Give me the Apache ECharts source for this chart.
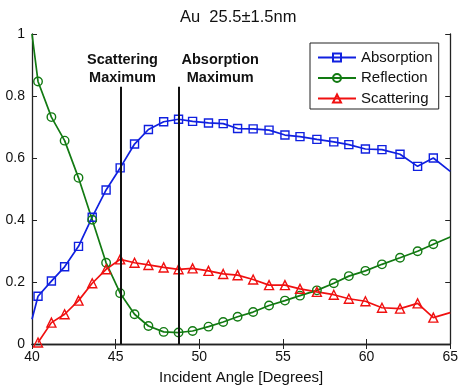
<!DOCTYPE html>
<html>
<head>
<meta charset="utf-8">
<script src="https://cdn.jsdelivr.net/npm/echarts@6/dist/echarts.min.js"></script>
<style>
html,body{margin:0;padding:0;background:#fff;}
#chart{width:461px;height:390px;}
</style>
</head>
<body>
<div id="chart"></div>
<script>
// Incident angles (degrees) of the measured points
const angles = [40.36, 41.16, 41.95, 42.78, 43.60, 44.43, 45.27, 46.13, 46.96, 47.87, 48.76, 49.60, 50.55, 51.43, 52.29, 53.22, 54.17, 55.12, 56.02, 57.03, 58.04, 58.94, 59.93, 60.92, 62.00, 63.05, 63.99];
const absorption = [0.154, 0.203, 0.249, 0.315, 0.409, 0.497, 0.568, 0.645, 0.692, 0.717, 0.725, 0.718, 0.713, 0.711, 0.695, 0.694, 0.690, 0.674, 0.669, 0.660, 0.652, 0.643, 0.629, 0.627, 0.612, 0.573, 0.600];
const reflection = [0.847, 0.732, 0.656, 0.536, 0.401, 0.262, 0.164, 0.096, 0.058, 0.039, 0.037, 0.042, 0.056, 0.071, 0.088, 0.103, 0.124, 0.140, 0.156, 0.173, 0.196, 0.219, 0.236, 0.257, 0.278, 0.299, 0.322];
const scattering = [0.005, 0.069, 0.096, 0.140, 0.196, 0.241, 0.273, 0.262, 0.255, 0.247, 0.241, 0.244, 0.236, 0.226, 0.222, 0.208, 0.190, 0.190, 0.178, 0.168, 0.159, 0.146, 0.138, 0.117, 0.114, 0.131, 0.085];
// values where the curves meet the plot edges (x = 40 and x = 65)
const edgeAngles = [40, 65];
const absorptionEdge = [0.080, 0.557];
const reflectionEdge = [1.000, 0.345];
const scatteringEdge = [null, 0.101];
// annotations
const maxLineAngles = [45.33, 48.76];
const maxLineTop = 0.83;
const annotations = [
  {name: 'Scattering\nMaximum', x: 45.41, y: 0.886},
  {name: 'Absorption\nMaximum', x: 51.25, y: 0.886}
];
const xTicks = {min: 40, max: 65, step: 5};
const yTicks = {min: 0, max: 1, step: 0.2};
const titleText = 'Au  25.5\u00b11.5nm';
const xName = 'Incident Angle [Degrees]';

function buildData(vals, edge) {
  const d = [];
  if (edge[0] !== null) d.push({value: [edgeAngles[0], edge[0]], symbol: 'none'});
  angles.forEach((a, i) => d.push([a, vals[i]]));
  if (edge[1] !== null) d.push({value: [edgeAngles[1], edge[1]], symbol: 'none'});
  return d;
}

const axisColor = '#222';
const font = '"Liberation Sans", Arial, Helvetica, sans-serif';

const chart = echarts.init(document.getElementById('chart'), null, {renderer: 'canvas'});
const baseX = {
  type: 'value', min: xTicks.min, max: xTicks.max, interval: xTicks.step,
  axisLine: {show: true, lineStyle: {color: axisColor, width: 1.3}},
  axisTick: {show: true, inside: true, length: 5, lineStyle: {color: axisColor, width: 1}},
  splitLine: {show: false}
};
const baseY = {
  type: 'value', min: yTicks.min, max: yTicks.max, interval: yTicks.step,
  axisLine: {show: true, lineStyle: {color: axisColor, width: 1.3}},
  axisTick: {show: true, inside: true, length: 5, lineStyle: {color: axisColor, width: 1}},
  splitLine: {show: false}
};

function series(name, vals, edge, color, symbol, size) {
  return {
    name: name, type: 'line', data: buildData(vals, edge),
    symbol: symbol, symbolSize: size, showSymbol: true,
    clip: true, animation: false,
    lineStyle: {color: color, width: 1.7},
    itemStyle: {color: 'rgba(255,255,255,0)', borderColor: color, borderWidth: 1.4},
    emphasis: {disabled: true}
  };
}

const sAbs = series('Absorption', absorption, absorptionEdge, '#1020e0', 'rect', 8);
const sRef = series('Reflection', reflection, reflectionEdge, '#127a12', 'circle', 8.5);
const sSca = series('Scattering', scattering, scatteringEdge, '#f01010', 'triangle', 9);

sAbs.markLine = {
  silent: true, symbol: ['none', 'none'], animation: false,
  label: {show: false},
  lineStyle: {color: '#111', width: 2, type: 'solid'},
  data: maxLineAngles.map(a => [{coord: [a, yTicks.min]}, {coord: [a, maxLineTop]}])
};
sSca.markPoint = {
  silent: true, animation: false, symbol: 'circle', symbolSize: 0,
  label: {show: true, position: 'inside', formatter: '{b}', color: '#111',
          fontFamily: font, fontWeight: 'bold', fontSize: 14.5, lineHeight: 18, align: 'center'},
  data: annotations.map(t => ({name: t.name, coord: [t.x, t.y]}))
};

chart.setOption({
  backgroundColor: '#fff',
  animation: false,
  title: {
    text: titleText, left: 175, top: 4,
    textStyle: {fontFamily: font, fontSize: 16.5, fontWeight: 'normal', color: '#111'}
  },
  legend: {
    orient: 'vertical', left: 310, top: 43,
    data: ['Absorption', 'Reflection', 'Scattering'],
    borderColor: '#222', borderWidth: 1, backgroundColor: '#fff',
    padding: [7, 6, 3, 7],
    itemWidth: 38, itemHeight: 10, itemGap: 5.5,
    textStyle: {fontFamily: font, fontSize: 15, color: '#111'},
    selectedMode: false
  },
  grid: {left: 32, right: 9, top: 34, bottom: 42, containLabel: false},
  xAxis: [
    Object.assign({}, baseX, {
      position: 'bottom',
      axisLabel: {show: true, fontFamily: font, fontSize: 14, color: '#111', margin: 6},
      name: xName, nameLocation: 'middle', nameGap: 26,
      nameTextStyle: {fontFamily: font, fontSize: 15, color: '#111'}
    }),
    Object.assign({}, baseX, {position: 'top', axisLabel: {show: false}})
  ],
  yAxis: [
    Object.assign({}, baseY, {
      position: 'left',
      axisLabel: {show: true, fontFamily: font, fontSize: 14, color: '#111', margin: 7}
    }),
    Object.assign({}, baseY, {position: 'right', axisLabel: {show: false}})
  ],
  series: [sAbs, sRef, sSca]
});
</script>
</body>
</html>
